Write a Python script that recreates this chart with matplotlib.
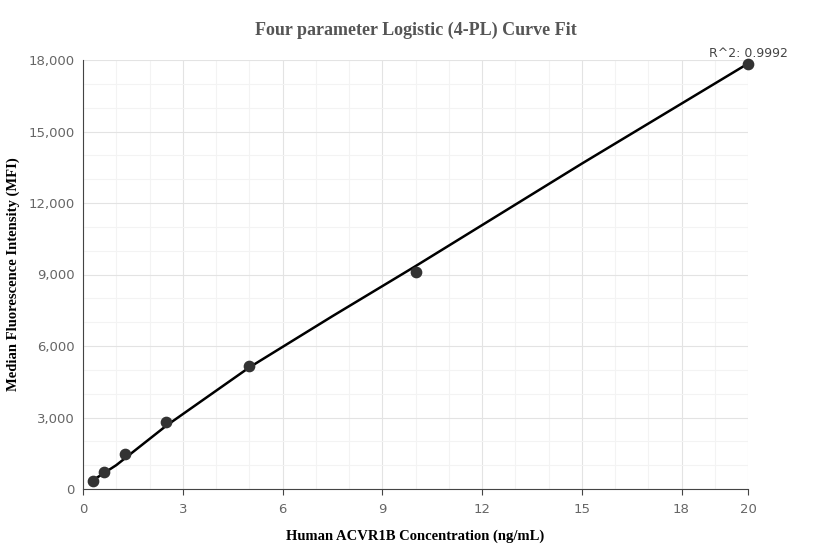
import numpy as np
import matplotlib.pyplot as plt
from matplotlib.ticker import MultipleLocator, FuncFormatter

# standards
conc = [0.3125, 0.625, 1.25, 2.5, 5, 10, 20]
mfi = [350, 700, 1450, 2830, 5180, 9100, 17850]
# fitted curve
fit_x = [0.3125, 1, 2.5, 5, 7.5, 10, 12.5, 15, 17.5, 20]
fit_y = [380, 1000, 2650, 5100, 7250, 9350, 11500, 13650, 15750, 17850]
r2_label = "R^2: 0.9992"
x_ticks = [0, 3, 6, 9, 12, 15, 18, 20]

fig = plt.figure(figsize=(8.32, 5.6), dpi=100)
ax = fig.add_axes([83/832, 1-489/560, (748-83)/832, (489-60)/560])

ax.plot(fit_x, fit_y, color="black", lw=1.8, zorder=3, clip_on=False)
ax.scatter(conc, mfi, s=55, color="#333333", zorder=4, clip_on=False)
ax.text(conc[-1], mfi[-1] + 150, r2_label, ha="center", va="bottom",
        fontsize=9, color="#444444")

ax.set_xlim(0, 20)
ax.set_ylim(0, 18000)
ax.set_xticks(x_ticks)
ax.xaxis.set_minor_locator(MultipleLocator(1))
ax.yaxis.set_major_locator(MultipleLocator(3000))
ax.yaxis.set_minor_locator(MultipleLocator(1000))
ax.yaxis.set_major_formatter(FuncFormatter(lambda v, p: f"{int(v):,}"))
ax.grid(which="major", color="#e3e3e3", lw=0.8)
ax.grid(which="minor", color="#f3f3f3", lw=0.8)
ax.set_axisbelow(True)
for s in ["top", "right"]:
    ax.spines[s].set_visible(False)
for s in ["left", "bottom"]:
    ax.spines[s].set_color("#444444")
ax.tick_params(which="both", length=0)
ax.tick_params(which="major", labelsize=9.5, labelcolor="#666666", pad=6)
ax.tick_params(axis="x", which="major", length=4, color="#444444")

serif = "Liberation Serif"
ax.set_title("Four parameter Logistic (4-PL) Curve Fit", fontsize=13,
             fontweight="bold", color="#555555", family=serif, pad=18)
ax.set_xlabel("Human ACVR1B Concentration (ng/mL)", fontsize=10.5,
              fontweight="bold", family=serif, labelpad=10)
ax.set_ylabel("Median Fluorescence Intensity (MFI)", fontsize=10.5,
              fontweight="bold", family=serif, labelpad=6)

fig.savefig("out.png", dpi=100)
